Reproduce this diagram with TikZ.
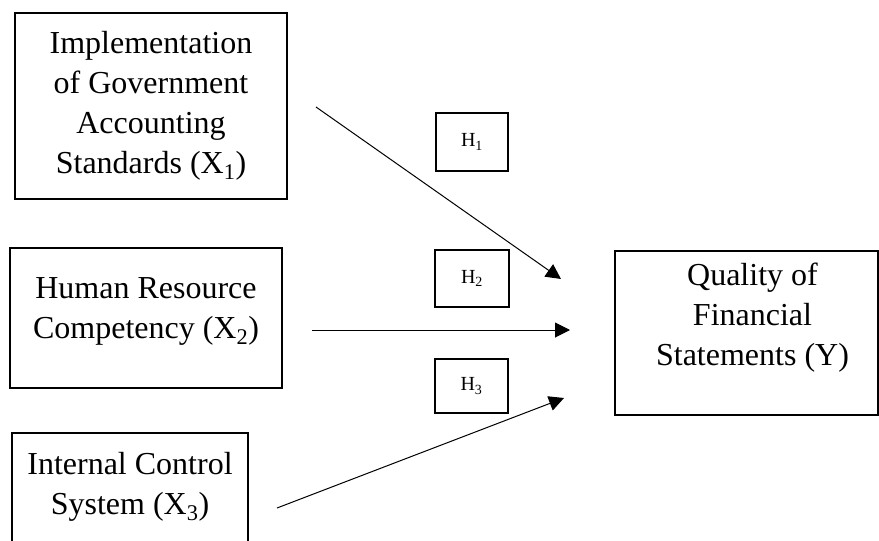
\documentclass[tikz,border=0pt]{standalone}
\usepackage{fontspec}
\setmainfont{Liberation Serif}
\usetikzlibrary{arrows.meta}
\newcommand{\dpfix}[1]{\rule[-#1pt]{0pt}{#1pt}}
\newcommand{\ls}{\hspace*{12pt}}
\begin{document}
\begin{tikzpicture}[x=1pt,y=-1pt,
  varbox/.style={draw,line width=1.2pt,rectangle,align=center,inner sep=0pt,
    font=\fontsize{32}{40}\selectfont},
  hbox/.style={draw,line width=1.2pt,rectangle,inner sep=0pt,
    font=\fontsize{20}{24}\selectfont},
  arr/.style={line width=1pt,-{Triangle[length=15pt,width=15pt]}}]
\clip (0,0) rectangle (879,541);
\fill[white] (0,0) rectangle (879,541);
\node[varbox,minimum width=272pt,minimum height=186pt] (x1) at (151,106)
  {Implementation\\of Government\\Accounting\\Standards (X\textsubscript{1})};
\node[varbox,minimum width=272pt,minimum height=140pt] (x2) at (146,318)
  {Human Resource\\Competency (X\textsubscript{2})\dpfix{20}};
\node[varbox,minimum width=236pt,minimum height=140pt] (x3) at (130,503)
  {Internal Control\\System (X\textsubscript{3})\dpfix{40}};
\node[varbox,minimum width=263pt,minimum height=164pt] (y) at (746.5,333)
  {\ls Quality of\\\ls Financial\\\ls Statements (Y)\dpfix{38}};
\node[hbox,minimum width=72pt,minimum height=58pt] (h1) at (472,142) {H\textsubscript{1}};
\node[hbox,minimum width=74pt,minimum height=57pt] (h2) at (472,278.5) {H\textsubscript{2}};
\node[hbox,minimum width=73pt,minimum height=54pt] (h3) at (471.5,386) {H\textsubscript{3}};
\coordinate (a1s) at (316,107);
\coordinate (a1e) at (561,279);
\coordinate (a2s) at (312,330);
\coordinate (a2e) at (570,330);
\coordinate (a3s) at (277,508);
\coordinate (a3e) at (564,398);
\draw[arr] (a1s) -- (a1e);
\draw[arr] (a2s) -- (a2e);
\draw[arr] (a3s) -- (a3e);
\end{tikzpicture}
\end{document}
